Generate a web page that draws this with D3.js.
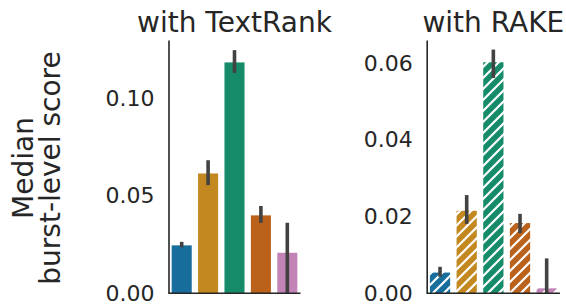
<!DOCTYPE html>
<html>
<head>
<meta charset="utf-8">
<script src="https://cdn.jsdelivr.net/npm/d3@7"></script>
<style>
  body { margin: 0; background: #fff; }
  text { font-family: "DejaVu Sans", sans-serif; fill: #262626; }
</style>
</head>
<body>
<svg id="chart" width="566" height="305"></svg>
<script>
// five methods, no tick labels on x
const categories = ["m1", "m2", "m3", "m4", "m5"];
const colors = ["#176d9c", "#c38820", "#168b6a", "#ba611b", "#c283b6"];

// with TextRank: median + confidence interval
const textrankMedian = [0.0246, 0.0615, 0.1185, 0.0400, 0.0208];
const textrankLow    = [0.0236, 0.0555, 0.1131, 0.0362, 0.0000];
const textrankHigh   = [0.0264, 0.0683, 0.1248, 0.0448, 0.0362];
const textrankTicks  = [0, 0.05, 0.10];

// with RAKE
const rakeMedian = [0.0054, 0.0215, 0.0602, 0.0183, 0.0013];
const rakeLow    = [0.0043, 0.0181, 0.0561, 0.0157, 0.0000];
const rakeHigh   = [0.0069, 0.0256, 0.0635, 0.0207, 0.0091];
const rakeTicks  = [0, 0.02, 0.04, 0.06];

const svg = d3.select("#chart");

// white "//" hatch for the RAKE panel
const defs = svg.append("defs");
colors.forEach(function (c, i) {
  const p = defs.append("pattern")
      .attr("id", "hatch" + i)
      .attr("patternUnits", "userSpaceOnUse")
      .attr("width", 11)
      .attr("height", 11);
  p.append("rect").attr("width", 11).attr("height", 11).attr("fill", c);
  p.append("path")
      .attr("d", "M-3,3 L3,-3 M0,11 L11,0 M8,14 L14,8")
      .attr("stroke", "#fff")
      .attr("stroke-width", 2.2);
});

function panel(opts) {
  const x = d3.scaleBand()
      .domain(categories)
      .range([opts.x0, opts.x1])
      .paddingInner(0.24)
      .paddingOuter(0.12);
  const y = d3.scaleLinear()
      .domain([0, opts.ymax])
      .range([opts.bottom, opts.top]);

  const g = svg.append("g");

  // bars
  g.selectAll("rect.bar")
    .data(opts.median)
    .enter().append("rect")
      .attr("class", "bar")
      .attr("x", (d, i) => x(categories[i]))
      .attr("y", d => y(d))
      .attr("width", x.bandwidth())
      .attr("height", d => y(0) - y(d))
      .attr("fill", (d, i) => opts.hatch ? "url(#hatch" + i + ")" : colors[i]);

  // error bars
  g.selectAll("line.err")
    .data(opts.median)
    .enter().append("line")
      .attr("class", "err")
      .attr("x1", (d, i) => x(categories[i]) + x.bandwidth() / 2)
      .attr("x2", (d, i) => x(categories[i]) + x.bandwidth() / 2)
      .attr("y1", (d, i) => y(opts.low[i]))
      .attr("y2", (d, i) => y(opts.high[i]))
      .attr("stroke", "#424242")
      .attr("stroke-width", 3.6);

  // left axis, no tick marks
  const ya = g.append("g")
      .attr("transform", "translate(" + opts.x0 + ",0)")
      .call(d3.axisLeft(y).tickValues(opts.ticks).tickSize(0).tickPadding(14)
            .tickFormat(d3.format(".2f")));
  ya.select(".domain").attr("stroke", "#262626").attr("stroke-width", 1.6);
  ya.selectAll("text").attr("font-size", 22).attr("fill", "#262626")
      .attr("font-family", "DejaVu Sans");

  // bottom spine
  g.append("line")
      .attr("x1", opts.x0).attr("x2", opts.x1)
      .attr("y1", opts.bottom).attr("y2", opts.bottom)
      .attr("stroke", "#262626")
      .attr("stroke-width", 1.6);

  // title
  g.append("text")
      .attr("x", (opts.x0 + opts.x1) / 2)
      .attr("y", 31.5)
      .attr("text-anchor", "middle")
      .attr("font-size", 28)
      .text(opts.title);
}

panel({ x0: 168.5, x1: 300.5, top: 40, bottom: 293.3, ymax: 0.13,
        median: textrankMedian, low: textrankLow, high: textrankHigh,
        ticks: textrankTicks, title: "with TextRank", hatch: false });

panel({ x0: 426.7, x1: 560, top: 40, bottom: 293.3, ymax: 0.066,
        median: rakeMedian, low: rakeLow, high: rakeHigh,
        ticks: rakeTicks, title: "with RAKE", hatch: true });

// shared y label, two lines
const yl = svg.append("text")
    .attr("transform", "translate(33,168) rotate(-90)")
    .attr("text-anchor", "middle")
    .attr("font-size", 28);
yl.append("tspan").attr("x", 0).attr("dy", 0).text("Median");
yl.append("tspan").attr("x", 0).attr("dy", 27).text("burst-level score");
</script>
</body>
</html>
